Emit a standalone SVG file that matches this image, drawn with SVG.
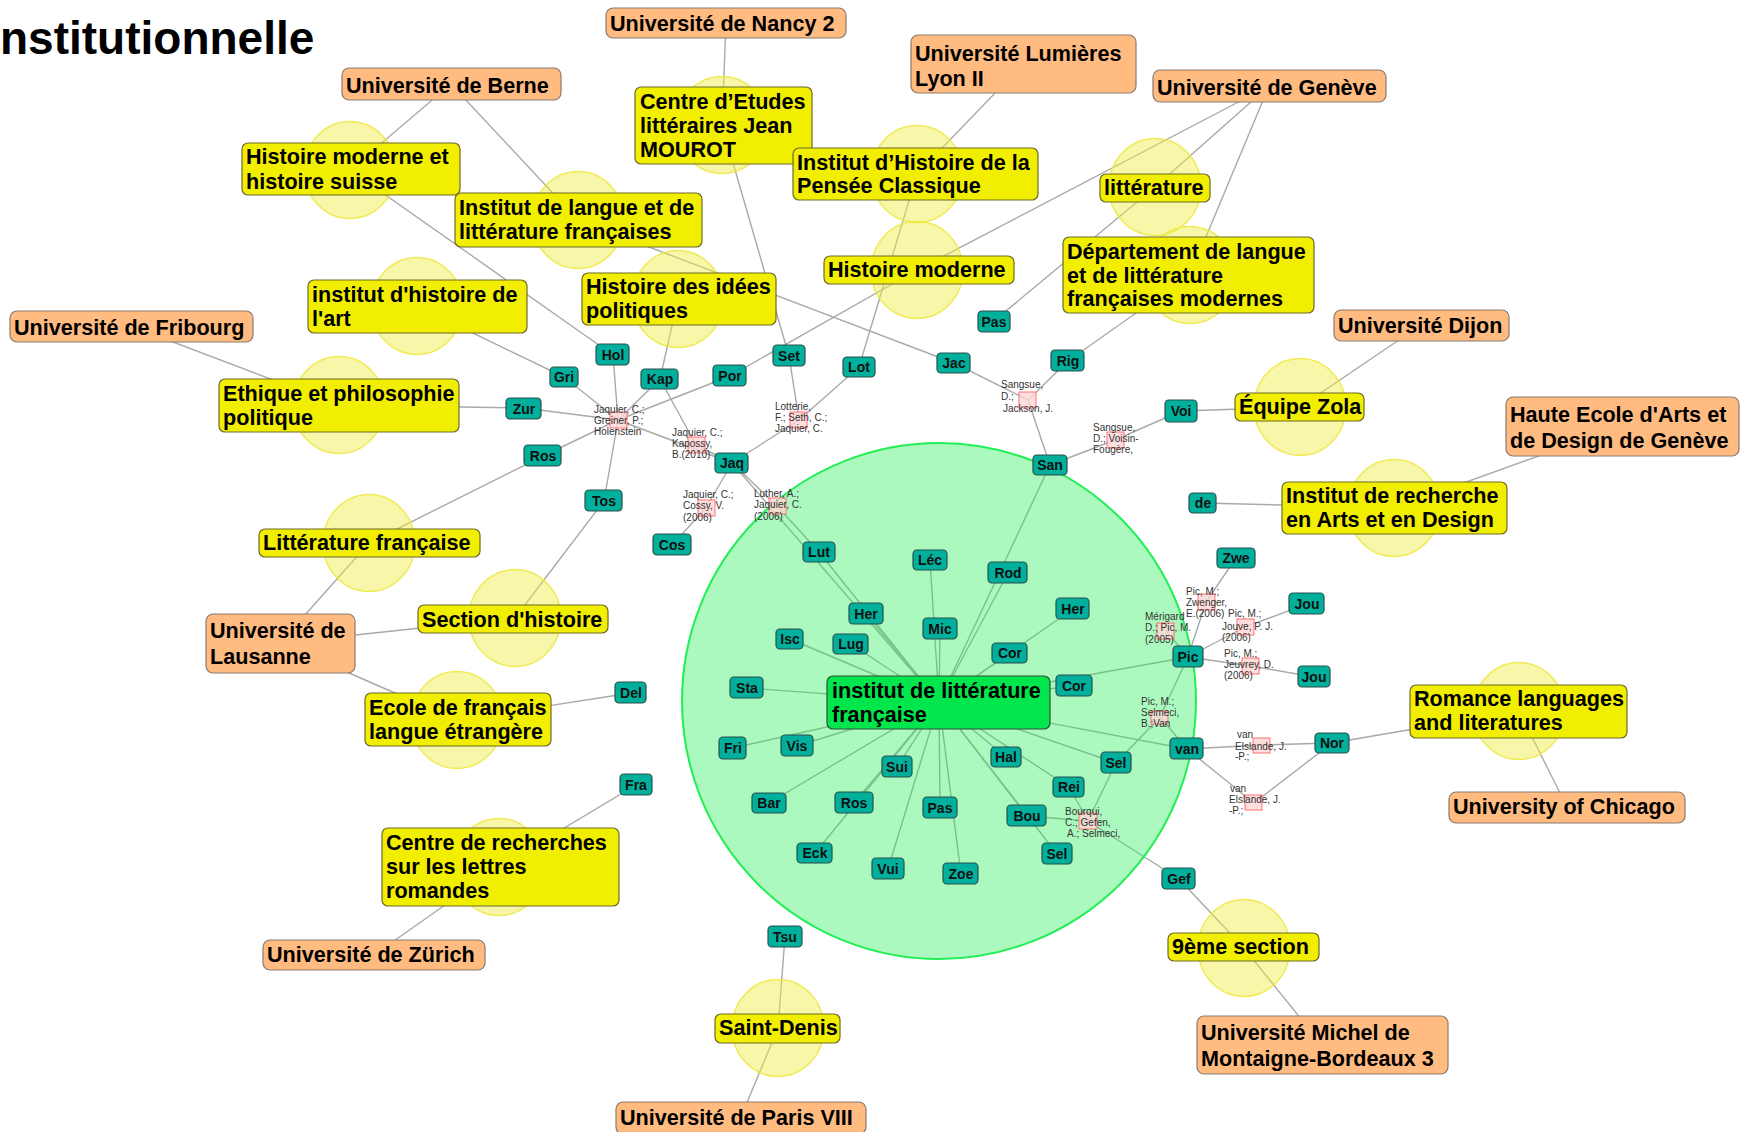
<svg xmlns="http://www.w3.org/2000/svg" width="1752" height="1132" viewBox="0 0 1752 1132">
<style>
.e line{stroke:#a9a9a9;stroke-width:1.4}
.u rect{fill:#FFBB80;stroke:#8a7a6e;stroke-width:1.2}
.d rect{fill:#F2EE00;stroke:#6c6a2c;stroke-width:1.2}
.d ellipse{fill:#EEEA40;fill-opacity:.45;stroke:#EEE840;stroke-opacity:.85;stroke-width:1.5}
.c rect{fill:#00E64C;stroke:#2f4f38;stroke-width:1.2}
.p rect{fill:#00B09C;stroke:#2c4f4a;stroke-width:1.2}
.q rect{fill:#FFD6D6;fill-opacity:.8;stroke:#FF7070;stroke-width:1}
.lbl{font-family:"Liberation Sans",Arial,sans-serif;font-weight:bold;font-size:21.6px;fill:#000}
.p text{font-family:"Liberation Sans",Arial,sans-serif;font-weight:bold;font-size:14px;fill:#111;text-anchor:middle}
.q text{font-family:"Liberation Sans",Arial,sans-serif;font-size:10px;fill:#333}
</style>
<rect width="1752" height="1132" fill="#fff"/>
<text x="0" y="54" font-family="Liberation Sans, Arial, sans-serif" font-weight="bold" font-size="46">nstitutionnelle</text>

<g id="connectors" class="e">
<line x1="726" y1="23" x2="722" y2="125"/>
<line x1="451" y1="84" x2="350" y2="170"/>
<line x1="451" y1="84" x2="578" y2="220"/>
<line x1="1023" y1="64" x2="917" y2="174"/>
<line x1="1269" y1="86" x2="917" y2="270"/>
<line x1="1269" y1="86" x2="1155" y2="187"/>
<line x1="1269" y1="86" x2="1190" y2="275"/>
<line x1="131" y1="326" x2="339" y2="405"/>
<line x1="1421" y1="325" x2="1300" y2="407"/>
<line x1="1622" y1="426" x2="1394" y2="508"/>
<line x1="280" y1="643" x2="369" y2="543"/>
<line x1="280" y1="643" x2="515" y2="618"/>
<line x1="280" y1="643" x2="457" y2="720"/>
<line x1="374" y1="955" x2="499" y2="867"/>
<line x1="1567" y1="807" x2="1519" y2="711"/>
<line x1="1322" y1="1045" x2="1244" y2="948"/>
<line x1="741" y1="1117" x2="778" y2="1028"/>
<line x1="350" y1="170" x2="613" y2="355"/>
<line x1="417" y1="306" x2="564" y2="377"/>
<line x1="339" y1="405" x2="524" y2="408"/>
<line x1="369" y1="543" x2="543" y2="456"/>
<line x1="515" y1="618" x2="604" y2="501"/>
<line x1="457" y1="720" x2="631" y2="693"/>
<line x1="499" y1="867" x2="636" y2="785"/>
<line x1="778" y1="1028" x2="785" y2="937"/>
<line x1="1244" y1="948" x2="1179" y2="879"/>
<line x1="1519" y1="711" x2="1332" y2="743"/>
<line x1="1394" y1="508" x2="1203" y2="503"/>
<line x1="1300" y1="407" x2="1181" y2="411"/>
<line x1="1190" y1="275" x2="1068" y2="361"/>
<line x1="1155" y1="187" x2="994" y2="321"/>
<line x1="917" y1="270" x2="730" y2="376"/>
<line x1="917" y1="174" x2="859" y2="367"/>
<line x1="722" y1="125" x2="789" y2="356"/>
<line x1="678" y1="299" x2="660" y2="379"/>
<line x1="578" y1="220" x2="954" y2="363"/>
<line x1="618" y1="420" x2="613" y2="355"/>
<line x1="618" y1="420" x2="564" y2="377"/>
<line x1="618" y1="420" x2="524" y2="408"/>
<line x1="618" y1="420" x2="660" y2="379"/>
<line x1="618" y1="420" x2="730" y2="376"/>
<line x1="618" y1="420" x2="543" y2="456"/>
<line x1="618" y1="420" x2="604" y2="501"/>
<line x1="618" y1="420" x2="732" y2="463"/>
<line x1="696" y1="445" x2="660" y2="379"/>
<line x1="696" y1="445" x2="732" y2="463"/>
<line x1="799" y1="420" x2="789" y2="356"/>
<line x1="799" y1="420" x2="859" y2="367"/>
<line x1="799" y1="420" x2="732" y2="463"/>
<line x1="706" y1="508" x2="732" y2="463"/>
<line x1="706" y1="508" x2="672" y2="545"/>
<line x1="777" y1="506" x2="732" y2="463"/>
<line x1="777" y1="506" x2="819" y2="552"/>
<line x1="1028" y1="400" x2="954" y2="363"/>
<line x1="1028" y1="400" x2="1068" y2="361"/>
<line x1="1028" y1="400" x2="1050" y2="465"/>
<line x1="1115" y1="440" x2="1050" y2="465"/>
<line x1="1115" y1="440" x2="1181" y2="411"/>
<line x1="1166" y1="631" x2="1188" y2="657"/>
<line x1="1206" y1="602" x2="1188" y2="657"/>
<line x1="1206" y1="602" x2="1236" y2="558"/>
<line x1="1245" y1="627" x2="1188" y2="657"/>
<line x1="1245" y1="627" x2="1307" y2="604"/>
<line x1="1251" y1="666" x2="1188" y2="657"/>
<line x1="1251" y1="666" x2="1314" y2="677"/>
<line x1="1160" y1="717" x2="1188" y2="657"/>
<line x1="1160" y1="717" x2="1187" y2="749"/>
<line x1="1160" y1="717" x2="1116" y2="763"/>
<line x1="1261" y1="745" x2="1187" y2="749"/>
<line x1="1261" y1="745" x2="1332" y2="743"/>
<line x1="1254" y1="803" x2="1187" y2="749"/>
<line x1="1254" y1="803" x2="1332" y2="743"/>
<line x1="1088" y1="821" x2="1027" y2="816"/>
<line x1="1088" y1="821" x2="1179" y2="879"/>
<line x1="1088" y1="821" x2="1116" y2="763"/>
<line x1="1088" y1="821" x2="1069" y2="787"/>
<line x1="939" y1="702" x2="819" y2="552"/>
<line x1="939" y1="702" x2="866" y2="614"/>
<line x1="939" y1="702" x2="930" y2="560"/>
<line x1="939" y1="702" x2="940" y2="629"/>
<line x1="939" y1="702" x2="1008" y2="573"/>
<line x1="939" y1="702" x2="1050" y2="465"/>
<line x1="939" y1="702" x2="790" y2="639"/>
<line x1="939" y1="702" x2="851" y2="644"/>
<line x1="939" y1="702" x2="1010" y2="653"/>
<line x1="939" y1="702" x2="1073" y2="609"/>
<line x1="939" y1="702" x2="747" y2="688"/>
<line x1="939" y1="702" x2="1074" y2="686"/>
<line x1="939" y1="702" x2="1188" y2="657"/>
<line x1="939" y1="702" x2="733" y2="748"/>
<line x1="939" y1="702" x2="797" y2="746"/>
<line x1="939" y1="702" x2="769" y2="803"/>
<line x1="939" y1="702" x2="897" y2="767"/>
<line x1="939" y1="702" x2="854" y2="803"/>
<line x1="939" y1="702" x2="815" y2="853"/>
<line x1="939" y1="702" x2="888" y2="869"/>
<line x1="939" y1="702" x2="940" y2="808"/>
<line x1="939" y1="702" x2="961" y2="874"/>
<line x1="939" y1="702" x2="1006" y2="757"/>
<line x1="939" y1="702" x2="1027" y2="816"/>
<line x1="939" y1="702" x2="1069" y2="787"/>
<line x1="939" y1="702" x2="1116" y2="763"/>
<line x1="939" y1="702" x2="1187" y2="749"/>
<line x1="939" y1="702" x2="1057" y2="854"/>
<line x1="939" y1="702" x2="732" y2="463"/>
</g>

<g id="n-ilf" class="c">
<ellipse cx="939" cy="701" rx="257" ry="258" fill="#22EE55" fill-opacity="0.38" stroke="#22EE55" stroke-width="2"/>
<rect x="827" y="676" width="223" height="53" rx="6"/>
<text class="lbl"><tspan x="832" y="698">institut de littérature</tspan><tspan x="832" y="722">française</tspan></text>
</g>

<g id="n-ce" class="d"><ellipse cx="722" cy="125" rx="46" ry="48.5"/><rect x="635" y="87" width="177" height="77" rx="6"/>
<text class="lbl"><tspan x="640" y="109">Centre d’Etudes</tspan><tspan x="640" y="133">littéraires Jean</tspan><tspan x="640" y="157">MOUROT</tspan></text></g>
<g id="n-hms" class="d"><ellipse cx="350" cy="170" rx="46" ry="48.5"/><rect x="242" y="143" width="218" height="52" rx="6"/>
<text class="lbl"><tspan x="246" y="164">Histoire moderne et</tspan><tspan x="246" y="189">histoire suisse</tspan></text></g>
<g id="n-pensee" class="d"><ellipse cx="917" cy="174" rx="46" ry="48.5"/><rect x="793" y="148" width="245" height="52" rx="6"/>
<text class="lbl"><tspan x="797" y="170">Institut d’Histoire de la</tspan><tspan x="797" y="193">Pensée Classique</tspan></text></g>
<g id="n-litt" class="d"><ellipse cx="1155" cy="187" rx="46" ry="48.5"/><rect x="1100" y="174" width="110" height="28" rx="6"/>
<text class="lbl" x="1104" y="195">littérature</text></g>
<g id="n-ilangue" class="d"><ellipse cx="578" cy="220" rx="46" ry="48.5"/><rect x="455" y="193" width="247" height="54" rx="6"/>
<text class="lbl"><tspan x="459" y="215">Institut de langue et de</tspan><tspan x="459" y="239">littérature françaises</tspan></text></g>
<g id="n-dept" class="d"><ellipse cx="1190" cy="275" rx="46" ry="48.5"/><rect x="1063" y="237" width="251" height="76" rx="6"/>
<text class="lbl"><tspan x="1067" y="259">Département de langue</tspan><tspan x="1067" y="283">et de littérature</tspan><tspan x="1067" y="306">françaises modernes</tspan></text></g>
<g id="n-hm" class="d"><ellipse cx="917" cy="270" rx="46" ry="48.5"/><rect x="824" y="256" width="190" height="28" rx="6"/>
<text class="lbl" x="828" y="277">Histoire moderne</text></g>
<g id="n-hip" class="d"><ellipse cx="678" cy="299" rx="46" ry="48.5"/><rect x="582" y="273" width="194" height="52" rx="6"/>
<text class="lbl"><tspan x="586" y="294">Histoire des idées</tspan><tspan x="586" y="318">politiques</tspan></text></g>
<g id="n-iha" class="d"><ellipse cx="417" cy="306" rx="46" ry="48.5"/><rect x="308" y="280" width="219" height="53" rx="6"/>
<text class="lbl"><tspan x="312" y="302">institut d'histoire de</tspan><tspan x="312" y="326">l'art</tspan></text></g>
<g id="n-ethique" class="d"><ellipse cx="339" cy="405" rx="46" ry="48.5"/><rect x="219" y="379" width="240" height="53" rx="6"/>
<text class="lbl"><tspan x="223" y="401">Ethique et philosophie</tspan><tspan x="223" y="425">politique</tspan></text></g>
<g id="n-zola" class="d"><ellipse cx="1300" cy="407" rx="46" ry="48.5"/><rect x="1235" y="393" width="129" height="28" rx="6"/>
<text class="lbl" x="1239" y="414">Équipe Zola</text></g>
<g id="n-irad" class="d"><ellipse cx="1394" cy="508" rx="46" ry="48.5"/><rect x="1282" y="482" width="225" height="52" rx="6"/>
<text class="lbl"><tspan x="1286" y="503">Institut de recherche</tspan><tspan x="1286" y="527">en Arts et en Design</tspan></text></g>
<g id="n-littfr" class="d"><ellipse cx="369" cy="543" rx="46" ry="48.5"/><rect x="259" y="529" width="221" height="28" rx="6"/>
<text class="lbl" x="263" y="550">Littérature française</text></g>
<g id="n-section" class="d"><ellipse cx="515" cy="618" rx="46" ry="48.5"/><rect x="418" y="605" width="190" height="28" rx="6"/>
<text class="lbl" x="422" y="627">Section d'histoire</text></g>
<g id="n-ecole" class="d"><ellipse cx="457" cy="720" rx="46" ry="48.5"/><rect x="365" y="693" width="186" height="53" rx="6"/>
<text class="lbl"><tspan x="369" y="715">Ecole de français</tspan><tspan x="369" y="739">langue étrangère</tspan></text></g>
<g id="n-crlr" class="d"><ellipse cx="499" cy="867" rx="46" ry="48.5"/><rect x="382" y="828" width="237" height="78" rx="6"/>
<text class="lbl"><tspan x="386" y="850">Centre de recherches</tspan><tspan x="386" y="874">sur les lettres</tspan><tspan x="386" y="898">romandes</tspan></text></g>
<g id="n-romance" class="d"><ellipse cx="1519" cy="711" rx="46" ry="48.5"/><rect x="1410" y="685" width="217" height="53" rx="6"/>
<text class="lbl"><tspan x="1414" y="706">Romance languages</tspan><tspan x="1414" y="730">and literatures</tspan></text></g>
<g id="n-9eme" class="d"><ellipse cx="1244" cy="948" rx="46" ry="48.5"/><rect x="1168" y="933" width="151" height="28" rx="6"/>
<text class="lbl" x="1172" y="954">9ème section</text></g>
<g id="n-stdenis" class="d"><ellipse cx="778" cy="1028" rx="46" ry="48.5"/><rect x="715" y="1014" width="125" height="29" rx="6"/>
<text class="lbl" x="719" y="1035">Saint-Denis</text></g>

<g id="u-nancy" class="u"><rect x="606" y="8" width="240" height="30" rx="7"/><text class="lbl" x="610" y="31">Université de Nancy 2</text></g>
<g id="u-berne" class="u"><rect x="342" y="68" width="219" height="32" rx="7"/><text class="lbl" x="346" y="93">Université de Berne</text></g>
<g id="u-lyon" class="u"><rect x="911" y="35" width="225" height="58" rx="7"/><text class="lbl"><tspan x="915" y="61">Université Lumières</tspan><tspan x="915" y="86">Lyon II</tspan></text></g>
<g id="u-geneve" class="u"><rect x="1153" y="70" width="233" height="32" rx="7"/><text class="lbl" x="1157" y="95">Université de Genève</text></g>
<g id="u-fribourg" class="u"><rect x="10" y="311" width="243" height="31" rx="7"/><text class="lbl" x="14" y="335">Université de Fribourg</text></g>
<g id="u-dijon" class="u"><rect x="1334" y="310" width="175" height="31" rx="7"/><text class="lbl" x="1338" y="333">Université Dijon</text></g>
<g id="u-headg" class="u"><rect x="1506" y="397" width="233" height="59" rx="7"/><text class="lbl"><tspan x="1510" y="422">Haute Ecole d'Arts et</tspan><tspan x="1510" y="448">de Design de Genève</tspan></text></g>
<g id="u-lausanne" class="u"><rect x="206" y="614" width="149" height="59" rx="7"/><text class="lbl"><tspan x="210" y="638">Université de</tspan><tspan x="210" y="664">Lausanne</tspan></text></g>
<g id="u-chicago" class="u"><rect x="1449" y="792" width="236" height="31" rx="7"/><text class="lbl" x="1453" y="814">University of Chicago</text></g>
<g id="u-zurich" class="u"><rect x="263" y="940" width="222" height="30" rx="7"/><text class="lbl" x="267" y="962">Université de Zürich</text></g>
<g id="u-bordeaux" class="u"><rect x="1197" y="1016" width="251" height="58" rx="7"/><text class="lbl"><tspan x="1201" y="1040">Université Michel de</tspan><tspan x="1201" y="1066">Montaigne-Bordeaux 3</tspan></text></g>
<g id="u-paris" class="u"><rect x="616" y="1102" width="250" height="32" rx="7"/><text class="lbl" x="620" y="1125">Université de Paris VIII</text></g>

<g id="p-hol" class="p"><rect x="596" y="344" width="33" height="21" rx="4"/><text x="613" y="360">Hol</text></g>
<g id="p-gri" class="p"><rect x="550" y="367" width="28" height="20" rx="4"/><text x="564" y="382">Gri</text></g>
<g id="p-kap" class="p"><rect x="641" y="369" width="37" height="20" rx="4"/><text x="660" y="384">Kap</text></g>
<g id="p-por" class="p"><rect x="713" y="365" width="33" height="21" rx="4"/><text x="730" y="381">Por</text></g>
<g id="p-set" class="p"><rect x="773" y="345" width="32" height="21" rx="4"/><text x="789" y="361">Set</text></g>
<g id="p-lot" class="p"><rect x="843" y="357" width="32" height="20" rx="4"/><text x="859" y="372">Lot</text></g>
<g id="p-jac" class="p"><rect x="937" y="353" width="33" height="20" rx="4"/><text x="954" y="368">Jac</text></g>
<g id="p-pas1" class="p"><rect x="978" y="311" width="32" height="21" rx="4"/><text x="994" y="327">Pas</text></g>
<g id="p-rig" class="p"><rect x="1051" y="350" width="33" height="21" rx="4"/><text x="1068" y="366">Rig</text></g>
<g id="p-zur" class="p"><rect x="506" y="398" width="35" height="21" rx="4"/><text x="524" y="414">Zur</text></g>
<g id="p-ros1" class="p"><rect x="524" y="445" width="37" height="21" rx="4"/><text x="543" y="461">Ros</text></g>
<g id="p-tos" class="p"><rect x="585" y="490" width="37" height="21" rx="4"/><text x="604" y="506">Tos</text></g>
<g id="p-jaq" class="p"><rect x="715" y="453" width="33" height="20" rx="4"/><text x="732" y="468">Jaq</text></g>
<g id="p-cos" class="p"><rect x="653" y="534" width="38" height="21" rx="4"/><text x="672" y="550">Cos</text></g>
<g id="p-san" class="p"><rect x="1033" y="455" width="34" height="20" rx="4"/><text x="1050" y="470">San</text></g>
<g id="p-voi" class="p"><rect x="1165" y="400" width="32" height="22" rx="4"/><text x="1181" y="416">Voi</text></g>
<g id="p-de" class="p"><rect x="1189" y="493" width="27" height="20" rx="4"/><text x="1203" y="508">de</text></g>
<g id="p-zwe" class="p"><rect x="1217" y="548" width="38" height="20" rx="4"/><text x="1236" y="563">Zwe</text></g>
<g id="p-jou1" class="p"><rect x="1289" y="593" width="35" height="21" rx="4"/><text x="1307" y="609">Jou</text></g>
<g id="p-pic" class="p"><rect x="1173" y="646" width="30" height="21" rx="4"/><text x="1188" y="662">Pic</text></g>
<g id="p-jou2" class="p"><rect x="1298" y="666" width="32" height="21" rx="4"/><text x="1314" y="682">Jou</text></g>
<g id="p-van" class="p"><rect x="1170" y="738" width="33" height="21" rx="4"/><text x="1187" y="754">van</text></g>
<g id="p-nor" class="p"><rect x="1315" y="733" width="34" height="20" rx="4"/><text x="1332" y="748">Nor</text></g>
<g id="p-lut" class="p"><rect x="803" y="542" width="32" height="20" rx="4"/><text x="819" y="557">Lut</text></g>
<g id="p-lec" class="p"><rect x="913" y="550" width="34" height="20" rx="4"/><text x="930" y="565">Léc</text></g>
<g id="p-rod" class="p"><rect x="988" y="562" width="39" height="21" rx="4"/><text x="1008" y="578">Rod</text></g>
<g id="p-her1" class="p"><rect x="849" y="603" width="34" height="21" rx="4"/><text x="866" y="619">Her</text></g>
<g id="p-her2" class="p"><rect x="1056" y="598" width="33" height="21" rx="4"/><text x="1073" y="614">Her</text></g>
<g id="p-mic" class="p"><rect x="923" y="618" width="34" height="21" rx="4"/><text x="940" y="634">Mic</text></g>
<g id="p-isc" class="p"><rect x="776" y="629" width="27" height="20" rx="4"/><text x="790" y="644">Isc</text></g>
<g id="p-lug" class="p"><rect x="833" y="634" width="35" height="20" rx="4"/><text x="851" y="649">Lug</text></g>
<g id="p-cor1" class="p"><rect x="992" y="643" width="35" height="20" rx="4"/><text x="1010" y="658">Cor</text></g>
<g id="p-cor2" class="p"><rect x="1056" y="675" width="36" height="21" rx="4"/><text x="1074" y="691">Cor</text></g>
<g id="p-sta" class="p"><rect x="730" y="677" width="33" height="21" rx="4"/><text x="747" y="693">Sta</text></g>
<g id="p-del" class="p"><rect x="615" y="682" width="31" height="21" rx="4"/><text x="631" y="698">Del</text></g>
<g id="p-fri" class="p"><rect x="719" y="737" width="27" height="22" rx="4"/><text x="733" y="753">Fri</text></g>
<g id="p-vis" class="p"><rect x="781" y="735" width="32" height="21" rx="4"/><text x="797" y="751">Vis</text></g>
<g id="p-sui" class="p"><rect x="882" y="756" width="30" height="21" rx="4"/><text x="897" y="772">Sui</text></g>
<g id="p-hal" class="p"><rect x="991" y="747" width="30" height="20" rx="4"/><text x="1006" y="762">Hal</text></g>
<g id="p-sel1" class="p"><rect x="1101" y="752" width="30" height="21" rx="4"/><text x="1116" y="768">Sel</text></g>
<g id="p-rei" class="p"><rect x="1053" y="777" width="31" height="20" rx="4"/><text x="1069" y="792">Rei</text></g>
<g id="p-fra" class="p"><rect x="620" y="774" width="32" height="21" rx="4"/><text x="636" y="790">Fra</text></g>
<g id="p-bar" class="p"><rect x="752" y="793" width="34" height="20" rx="4"/><text x="769" y="808">Bar</text></g>
<g id="p-ros2" class="p"><rect x="835" y="792" width="38" height="21" rx="4"/><text x="854" y="808">Ros</text></g>
<g id="p-pas2" class="p"><rect x="923" y="797" width="34" height="21" rx="4"/><text x="940" y="813">Pas</text></g>
<g id="p-bou" class="p"><rect x="1007" y="805" width="39" height="21" rx="4"/><text x="1027" y="821">Bou</text></g>
<g id="p-eck" class="p"><rect x="797" y="843" width="35" height="20" rx="4"/><text x="815" y="858">Eck</text></g>
<g id="p-sel2" class="p"><rect x="1042" y="843" width="30" height="21" rx="4"/><text x="1057" y="859">Sel</text></g>
<g id="p-vui" class="p"><rect x="872" y="858" width="32" height="21" rx="4"/><text x="888" y="874">Vui</text></g>
<g id="p-zoe" class="p"><rect x="943" y="863" width="35" height="21" rx="4"/><text x="961" y="879">Zoe</text></g>
<g id="p-gef" class="p"><rect x="1162" y="868" width="33" height="21" rx="4"/><text x="1179" y="884">Gef</text></g>
<g id="p-tsu" class="p"><rect x="768" y="926" width="34" height="21" rx="4"/><text x="785" y="942">Tsu</text></g>

<g id="pub1" class="q"><rect x="610" y="412" width="17" height="16"/><text><tspan x="594" y="413">Jaquier, C.;</tspan><tspan x="594" y="424">Greiner, P.;</tspan><tspan x="594" y="435">Holenstein</tspan></text></g>
<g id="pub2" class="q"><rect x="688" y="437" width="17" height="16"/><text><tspan x="672" y="436">Jaquier, C.;</tspan><tspan x="672" y="447">Kapossy,</tspan><tspan x="672" y="458">B.(2010)</tspan></text></g>
<g id="pub3" class="q"><rect x="790" y="412" width="17" height="16"/><text><tspan x="775" y="410">Lotterie,</tspan><tspan x="775" y="421">F.; Seth, C.;</tspan><tspan x="775" y="432">Jaquier, C.</tspan></text></g>
<g id="pub4" class="q"><rect x="698" y="500" width="17" height="16"/><text><tspan x="683" y="498">Jaquier, C.;</tspan><tspan x="683" y="509">Cossy, V.</tspan><tspan x="683" y="521">(2006)</tspan></text></g>
<g id="pub5" class="q"><rect x="769" y="498" width="17" height="16"/><text><tspan x="754" y="497">Luther, A.;</tspan><tspan x="754" y="508">Jaquier, C.</tspan><tspan x="754" y="520">(2006)</tspan></text></g>
<g id="pub6" class="q"><rect x="1019" y="392" width="17" height="16"/><text><tspan x="1001" y="388">Sangsue,</tspan><tspan x="1001" y="400">D.;</tspan><tspan x="1003" y="412">Jackson, J.</tspan></text></g>
<g id="pub7" class="q"><rect x="1107" y="432" width="17" height="16"/><text><tspan x="1093" y="431">Sangsue,</tspan><tspan x="1093" y="442">D.; Voisin-</tspan><tspan x="1093" y="453">Fougère,</tspan></text></g>
<g id="pub8" class="q"><rect x="1157" y="623" width="17" height="16"/><text><tspan x="1145" y="620">Mérigard</tspan><tspan x="1145" y="631">D.; Pic, M.</tspan><tspan x="1145" y="643">(2005)</tspan></text></g>
<g id="pub9" class="q"><rect x="1198" y="594" width="17" height="16"/><text><tspan x="1186" y="595">Pic, M.;</tspan><tspan x="1186" y="606">Zwenger,</tspan><tspan x="1186" y="617">E.(2006)</tspan></text></g>
<g id="pub10" class="q"><rect x="1237" y="619" width="17" height="16"/><text><tspan x="1228" y="617">Pic, M.;</tspan><tspan x="1222" y="630">Jouve, P. J.</tspan><tspan x="1222" y="641">(2006)</tspan></text></g>
<g id="pub11" class="q"><rect x="1242" y="658" width="17" height="16"/><text><tspan x="1224" y="657">Pic, M.;</tspan><tspan x="1224" y="668">Jeuvrey, D.</tspan><tspan x="1224" y="679">(2006)</tspan></text></g>
<g id="pub12" class="q"><rect x="1151" y="711" width="17" height="13"/><text><tspan x="1141" y="705">Pic, M.;</tspan><tspan x="1141" y="716">Selmeci,</tspan><tspan x="1141" y="727">B.;Van</tspan></text></g>
<g id="pub13" class="q"><rect x="1253" y="738" width="17" height="15"/><text><tspan x="1237" y="738">van</tspan><tspan x="1235" y="750">Elslande, J.</tspan><tspan x="1235" y="760">-P.;</tspan></text></g>
<g id="pub14" class="q"><rect x="1245" y="795" width="17" height="15"/><text><tspan x="1230" y="792">van</tspan><tspan x="1229" y="803">Elslande, J.</tspan><tspan x="1229" y="814">-P.;</tspan></text></g>
<g id="pub15" class="q"><rect x="1079" y="813" width="18" height="16"/><text><tspan x="1065" y="815">Bourqui,</tspan><tspan x="1065" y="826">C.; Gefen,</tspan><tspan x="1067" y="837">A.; Selmeci,</tspan></text></g>
</svg>
